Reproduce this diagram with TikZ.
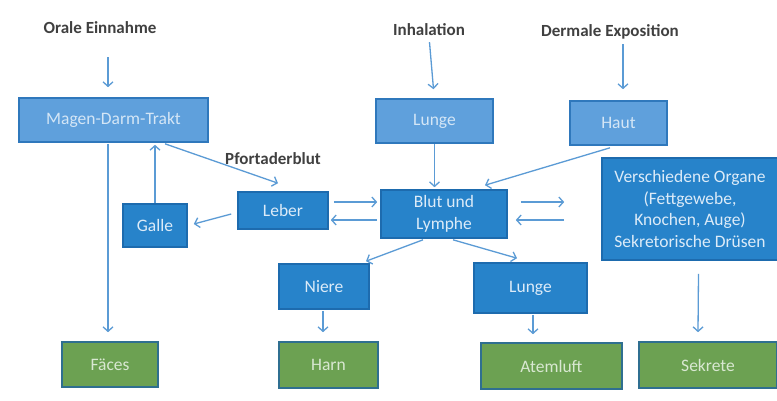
\documentclass[tikz,border=0pt]{standalone}
\usepackage{fontspec}
\setmainfont{Carlito}
\usetikzlibrary{arrows.meta,calc}
\definecolor{labelgray}{HTML}{404040}
\definecolor{lightfill}{HTML}{5FA0DC}
\definecolor{lightborder}{HTML}{2F78BC}
\definecolor{lighttext}{HTML}{D4E6F6}
\definecolor{midfill}{HTML}{2783CA}
\definecolor{midborder}{HTML}{1D6BAE}
\definecolor{midtext}{HTML}{DCEBF8}
\definecolor{greenfill}{HTML}{6CA152}
\definecolor{greenborder}{HTML}{2F6F90}
\definecolor{greentext}{HTML}{D9E8D2}
\definecolor{arrowblue}{HTML}{5B9BD5}
\newcommand\lblfont{\bfseries\fontsize{17}{20}\selectfont}
\newcommand\boxfont{\fontsize{17.5}{21.5}\selectfont}
\tikzset{
  lbl/.style={font=\lblfont, text=labelgray, inner sep=0pt},
  box/.style={draw, line width=1.6pt, inner sep=2pt, align=center, font=\boxfont},
  topbox/.style={box, fill=lightfill, draw=lightborder, text=lighttext},
  midbox/.style={box, fill=midfill, draw=midborder, text=midtext},
  outbox/.style={box, fill=greenfill, draw=greenborder, text=greentext},
  arr/.style={draw=arrowblue, line width=1.3pt, -{Straight Barb[length=4.5pt,width=10pt]}}
}
\begin{document}
\begin{tikzpicture}[x=1pt,y=-1pt]
\useasboundingbox[fill=white] (0,0) rectangle (777,400);
% labels
\node[lbl] (orale) at (100,28) {Orale Einnahme};
\node[lbl] (inh) at (429,30) {Inhalation};
\node[lbl] (derm) at (610,32) {Dermale Exposition};
\node[lbl] (pfort) at (273,159) {Pfortaderblut};
% top boxes
\node[topbox, minimum width=189pt, minimum height=44pt] (mdt) at (113.5,120) {Magen-Darm-Trakt};
\node[topbox, minimum width=117pt, minimum height=44pt] (lunge1) at (434.5,121) {Lunge};
\node[topbox, minimum width=97pt, minimum height=44pt] (haut) at (618.5,123) {Haut};
% middle boxes
\node[midbox, minimum width=126pt, minimum height=48pt] (blut) at (444,214) {Blut und\\Lymphe};
\node[midbox, minimum width=90pt, minimum height=37pt] (leber) at (283,210.5) {Leber};
\node[midbox, minimum width=64pt, minimum height=43pt] (galle) at (155,225.5) {Galle};
\node[midbox, minimum width=176pt, minimum height=102pt] (organe) at (690,209) {Verschiedene Organe\\(Fettgewebe,\\Knochen, Auge)\\Sekretorische Drüsen};
\node[midbox, minimum width=90pt, minimum height=45pt] (niere) at (324,286.5) {Niere};
\node[midbox, minimum width=113pt, minimum height=50pt] (lunge2) at (530.5,288) {Lunge};
% output boxes
\node[outbox, minimum width=96pt, minimum height=45pt] (faeces) at (110,364.5) {Fäces};
\node[outbox, minimum width=99pt, minimum height=46pt] (harn) at (328.5,365) {Harn};
\node[outbox, minimum width=141pt, minimum height=46pt] (atem) at (551.5,366) {Atemluft};
\node[outbox, minimum width=138pt, minimum height=46pt] (sekrete) at (708,365) {Sekrete};
% arrows
\draw[arr] ($(mdt.north)+(-5.5,-40)$) -- ($(mdt.north)+(-5.5,-10)$);
\draw[arr] ($(lunge1.north)+(-5,-56)$) -- ($(lunge1.north)+(-1,-9)$);
\draw[arr] ($(haut.north)+(4.5,-56)$) -- ($(haut.north)+(4.5,-11)$);
\draw[arr] ($(mdt.south)+(-5.5,1)$) -- ($(faeces.north)+(-2,-9)$);
\draw[arr] (galle.north) -- ($(galle.north |- mdt.south)+(0,2)$);
\draw[arr] ($(mdt.south)+(51.5,1)$) -- ($(leber.north)+(-5,-8)$);
\draw[arr] ($(leber.west)+(-6,3.5)$) -- ($(galle.east)+(6,-1.5)$);
\draw[arr] ($(leber.east)+(5,-8.5)$) -- ($(blut.west)+(-3,-12)$);
\draw[arr] ($(blut.west)+(-3,6)$) -- ($(leber.east)+(2,9.5)$);
\draw[arr] (lunge1.south) -- ($(lunge1.south |- blut.north)+(0,-2)$);
\draw[arr] ($(haut.south)+(-8.5,2)$) -- ($(blut.north)+(41,-4)$);
\draw[arr] ($(blut.east)+(13,-12)$) -- ($(organe.west)+(-37,-7)$);
\draw[arr] ($(organe.west)+(-37,11)$) -- ($(blut.east)+(8,6)$);
\draw[arr] ($(blut.south)+(-21,1)$) -- ($(niere.north)+(42,-2)$);
\draw[arr] ($(blut.south)+(9,1)$) -- ($(lunge2.north)+(-13.5,-4)$);
\draw[arr] ($(niere.south)+(-1,1)$) -- ($(harn.north)+(-5.5,-9)$);
\draw[arr] ($(lunge2.south)+(2.5,1)$) -- ($(atem.north)+(-18.5,-8)$);
\draw[arr] ($(organe.south)+(8.5,13)$) -- ($(sekrete.north)+(-10,-9)$);
\end{tikzpicture}
\end{document}
